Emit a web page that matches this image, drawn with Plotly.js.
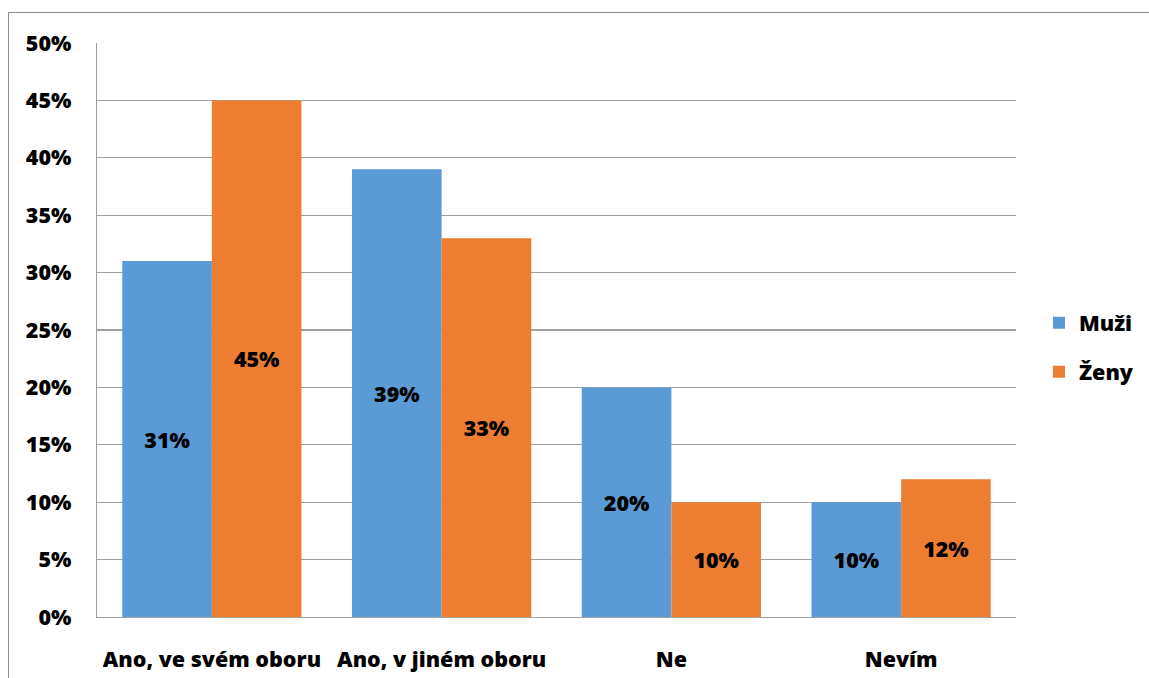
<!DOCTYPE html>
<html>
<head>
<meta charset="utf-8">
<script src="https://cdn.plot.ly/plotly-3.0.1.min.js"></script>
<style>
  html, body { margin: 0; padding: 0; background: #fff; }
  #wrap { position: relative; width: 1149px; height: 678px; overflow: hidden; }
  #chart { width: 1149px; height: 678px; }
  #frame { position: absolute; left: 8px; top: 12px; width: 1300px; height: 800px;
           border: 1.5px solid #8c8c8c; pointer-events: none; }
</style>
</head>
<body>
<div id="wrap">
  <div id="chart"></div>
  <div id="frame"></div>
</div>
<script>
// Answer categories
const categories = ["Ano, ve svém oboru", "Ano, v jiném oboru", "Ne", "Nevím"];
// Share of respondents per group (fractions)
const muzi = [0.31, 0.39, 0.20, 0.10];
const zeny = [0.45, 0.33, 0.10, 0.12];
const yTicks = [0, 0.05, 0.10, 0.15, 0.20, 0.25, 0.30, 0.35, 0.40, 0.45, 0.50];

const font = "'Open Sans', Lato, sans-serif";
const pct = v => Math.round(v * 100) + "%";
const boldFont = { family: font, size: 21.5, color: "#000", weight: 800 };

function barTrace(name, values, color, group) {
  return {
    type: "bar",
    name: name,
    x: categories,
    y: values,
    text: values.map(pct),
    textposition: "inside",
    insidetextanchor: "middle",
    textangle: 0,
    textfont: boldFont,
    marker: { color: color, line: { width: 0 } },
    legendgroup: group,
    hoverinfo: "x+y+name",
    cliponaxis: false
  };
}

const data = [
  barTrace("Muži", muzi, "#5B9BD5", "m"),
  barTrace("Ženy", zeny, "#ED7D31", "z")
];

const layout = {
  width: 1149,
  height: 678,
  margin: { l: 97, r: 133, t: 43, b: 61, autoexpand: false },
  paper_bgcolor: "#fff",
  plot_bgcolor: "#fff",
  barmode: "group",
  bargap: 0.22,
  bargroupgap: 0,
  uniformtext: { mode: "show", minsize: 10 },
  font: boldFont,
  xaxis: {
    type: "category",
    showgrid: false,
    showline: true,
    linecolor: "#a0a0a0",
    linewidth: 1.3,
    ticks: "",
    ticklabelstandoff: 23,
    tickfont: boldFont,
    zeroline: false
  },
  yaxis: {
    range: [0, 0.5],
    tickvals: yTicks,
    ticktext: yTicks.map(pct),
    showgrid: true,
    gridcolor: "#a0a0a0",
    gridwidth: 1.3,
    showline: true,
    linecolor: "#a0a0a0",
    linewidth: 1.3,
    ticks: "",
    ticklabelstandoff: 20,
    tickfont: boldFont,
    zeroline: false
  },
  legend: {
    x: 1.025,
    y: 0.47,
    xanchor: "left",
    yanchor: "middle",
    traceorder: "grouped",
    tracegroupgap: 18,
    font: boldFont,
    itemwidth: 30,
    bgcolor: "rgba(0,0,0,0)"
  },
  showlegend: true
};

Plotly.newPlot("chart", data, layout, { displayModeBar: false, staticPlot: true });
</script>
</body>
</html>
